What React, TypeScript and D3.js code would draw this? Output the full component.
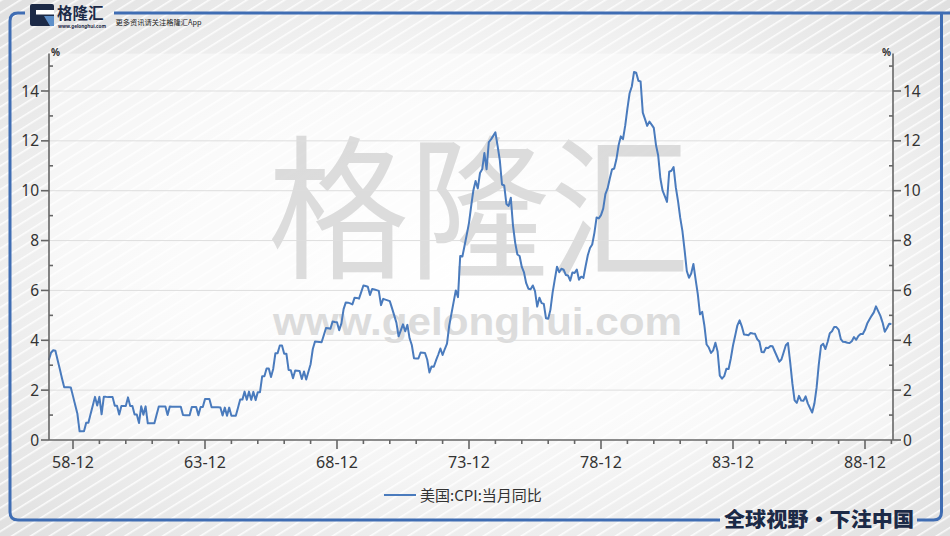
import React from "react";
import * as d3 from "d3";

// US CPI YoY (%), monthly from 1958-01 to 1989-12
const cpi1958to1963 = [
  3.2, 3.5, 3.6, 3.58, 3.21, 2.85, 2.47, 2.12, 2.12, 2.12, 2.11, 1.76,
  1.4, 1.05, 0.35, 0.35, 0.35, 0.69, 0.69, 1.04, 1.38, 1.73, 1.38, 1.73,
  1.03, 1.73, 1.73, 1.72, 1.72, 1.72, 1.37, 1.37, 1.02, 1.36, 1.36, 1.36,
  1.71, 1.36, 1.36, 1.02, 1.02, 0.68, 1.35, 1.01, 1.35, 0.67, 0.67, 0.67,
  0.67, 1.01, 1.34, 1.34, 1.34, 1.34, 1.0, 1.34, 1.33, 1.33, 1.33, 1.33,
  1.33, 1.0, 0.99, 0.99, 0.99, 1.32, 1.32, 1.32, 0.99, 1.32, 1.32, 1.64,
];
const cpi1964to1969 = [
  1.64, 1.64, 1.31, 1.31, 1.31, 1.31, 1.3, 0.98, 1.3, 0.97, 1.3, 0.97,
  0.97, 0.97, 1.29, 1.62, 1.62, 1.94, 1.61, 1.94, 1.61, 1.93, 1.6, 1.92,
  1.92, 2.56, 2.56, 2.87, 2.87, 2.53, 2.85, 3.48, 3.48, 3.79, 3.79, 3.46,
  3.46, 2.81, 2.8, 2.48, 2.79, 2.78, 2.77, 2.45, 2.75, 2.43, 2.74, 3.04,
  3.65, 3.95, 3.94, 3.93, 3.92, 4.2, 4.49, 4.48, 4.46, 4.75, 4.73, 4.72,
  4.4, 4.68, 5.25, 5.52, 5.51, 5.48, 5.44, 5.71, 5.7, 5.67, 5.93, 6.2,
];
const cpi1970to1975 = [
  6.18, 6.15, 5.82, 6.06, 6.04, 6.01, 5.98, 5.41, 5.66, 5.63, 5.6, 5.57,
  5.29, 5.0, 4.71, 4.16, 4.4, 4.64, 4.36, 4.62, 4.08, 3.81, 3.28, 3.27,
  3.27, 3.51, 3.5, 3.49, 3.23, 2.71, 2.95, 2.94, 3.19, 3.42, 3.67, 3.41,
  3.65, 3.87, 4.59, 5.06, 5.53, 6.0, 5.73, 7.38, 7.36, 7.8, 8.25, 8.71,
  9.39, 10.02, 10.39, 10.09, 10.71, 10.86, 11.51, 10.86, 11.95, 12.06, 12.2, 12.34,
  11.8, 11.23, 10.25, 10.21, 9.47, 9.39, 9.72, 8.6, 7.91, 7.44, 7.38, 6.94,
];
const cpi1976to1981 = [
  6.72, 6.29, 6.07, 6.05, 6.2, 5.97, 5.35, 5.71, 5.49, 5.46, 4.88, 4.86,
  5.22, 5.91, 6.44, 6.95, 6.73, 6.87, 6.83, 6.62, 6.6, 6.39, 6.72, 6.7,
  6.84, 6.43, 6.55, 6.5, 6.97, 7.41, 7.7, 7.84, 8.31, 8.93, 8.89, 9.02,
  9.28, 9.86, 10.09, 10.49, 10.85, 10.89, 11.26, 11.82, 12.18, 12.07, 12.61, 13.29,
  13.91, 14.18, 14.76, 14.73, 14.41, 14.38, 13.13, 12.87, 12.6, 12.77, 12.65, 12.52,
  11.83, 11.41, 10.49, 10.0, 9.78, 9.55, 10.76, 10.8, 10.95, 10.14, 9.59, 8.92,
];
const cpi1982to1989 = [
  8.39, 7.62, 6.78, 6.51, 6.68, 7.06, 6.44, 5.85, 5.04, 5.14, 4.59, 3.83,
  3.71, 3.49, 3.6, 3.9, 3.55, 2.58, 2.46, 2.56, 2.86, 2.85, 3.27, 3.79,
  4.19, 4.6, 4.8, 4.56, 4.23, 4.22, 4.2, 4.29, 4.27, 4.26, 4.05, 3.95,
  3.53, 3.52, 3.7, 3.69, 3.77, 3.76, 3.55, 3.35, 3.14, 3.23, 3.51, 3.8,
  3.89, 3.11, 2.26, 1.59, 1.49, 1.77, 1.58, 1.57, 1.75, 1.47, 1.28, 1.1,
  1.46, 2.1, 3.03, 3.78, 3.86, 3.65, 3.93, 4.28, 4.36, 4.53, 4.53, 4.43,
  4.05, 3.94, 3.93, 3.9, 3.89, 3.96, 4.13, 4.02, 4.17, 4.25, 4.25, 4.42,
  4.67, 4.83, 4.98, 5.12, 5.36, 5.17, 4.98, 4.71, 4.34, 4.49, 4.66, 4.65,
];

const startYear = 1958;
const majorTickYears = [1958, 1963, 1968, 1973, 1978, 1983, 1988];
const xTickLabels = ["58-12", "63-12", "68-12", "73-12", "78-12", "83-12", "88-12"];
const yTicks = [0, 2, 4, 6, 8, 10, 12, 14];
const seriesName = "美国:CPI:当月同比";

const values = [
  ...cpi1958to1963,
  ...cpi1964to1969,
  ...cpi1970to1975,
  ...cpi1976to1981,
  ...cpi1982to1989,
];

const W = 950;
const H = 536;
const left = 49;
const right = 893;
const bottom = 440;
const top = 53.6;
const blue = "#3f6db3";
const lineColor = "#4a7bbd";
const navy = "#1c2a47";
const font = "'Noto Sans', 'Open Sans', 'Noto Sans CJK SC', sans-serif";
const cjk = "'Noto Sans CJK SC', 'Noto Sans', sans-serif";

export default function App() {
  const n = values.length;
  const x = d3.scaleLinear().domain([0, n - 1]).range([48.8, 891.4]);
  const y = d3.scaleLinear().domain([0, 15.5]).range([bottom, top]);
  const line = d3
    .line<number>()
    .x((_, i) => x(i))
    .y((d) => y(d));
  const pathD = line(values) || "";

  const yearEnds = d3.range(startYear, startYear + n / 12).map((yr) => (yr - startYear) * 12 + 11);
  const majorIdx = majorTickYears.map((yr) => (yr - startYear) * 12 + 11);
  const minorY = d3.range(1, 16, 2);

  return (
    <svg
      width={W}
      height={H}
      style={{ position: "absolute", left: 0, top: 0, display: "block" }}
      xmlns="http://www.w3.org/2000/svg"
    >
      <defs>
        <radialGradient id="bg" cx="50%" cy="50%" r="70%">
          <stop offset="0%" stopColor="#ffffff" />
          <stop offset="55%" stopColor="#f5f5f5" />
          <stop offset="100%" stopColor="#e0e0e0" />
        </radialGradient>
        <pattern
          id="stripes"
          width="10"
          height="10"
          patternUnits="userSpaceOnUse"
          patternTransform="rotate(-32)"
        >
          <rect x="0" y="0" width="10" height="1.6" fill="#ffffff" opacity="0.85" />
        </pattern>
      </defs>

      <rect x={0} y={0} width={W} height={H} fill="url(#bg)" />
      <rect x={0} y={0} width={W} height={H} fill="url(#stripes)" />
      <rect x={left} y={top} width={right - left} height={bottom - top} fill="#ffffff" opacity={0.45} />

      {/* frame */}
      <g fill="none" stroke={blue} strokeWidth={3}>
        <path d="M 25 13 L 18 13 Q 10 13 10 21 L 10 512 Q 10 520 18 520 L 720 520" />
        <path d="M 114 13 L 950 13" />
        <path d="M 941.5 13 L 941.5 512 Q 941.5 520 933.5 520 L 917 520" />
      </g>

      {/* logo */}
      <g>
        <rect x={30} y={4} width={24} height={22} rx={2} fill={navy} />
        <rect x={36} y={10} width={18} height={4.5} fill="#ffffff" />
        <polygon points="44,16 54,16 54,26 50,26" fill="#5d8fc9" />
        <text x={57} y={18.5} fontFamily={cjk} fontWeight={700} fontSize={15.5} fill={navy}>
          格隆汇
        </text>
        <text x={58} y={27.5} fontFamily={font} fontSize={4.4} fontWeight={700} fill={navy} textLength={48} lengthAdjust="spacingAndGlyphs">
          www.gelonghui.com
        </text>
        <text x={115.5} y={24.5} fontFamily={cjk} fontSize={7} fill="#222" textLength={86} lengthAdjust="spacingAndGlyphs">
          更多资讯请关注格隆汇App
        </text>
      </g>

      {/* watermark */}
      <g fill="#d0d0d0" opacity={0.72}>
        <text
          x={0}
          y={0}
          fontFamily={cjk}
          fontSize={143}
          transform="translate(268,266) scale(1,1.08)"
          textLength={422}
          lengthAdjust="spacingAndGlyphs"
        >
          格隆汇
        </text>
        <text
          x={273}
          y={335}
          fontFamily="'Liberation Sans', Arial, sans-serif"
          fontWeight={700}
          fontSize={39}
          textLength={409}
          lengthAdjust="spacingAndGlyphs"
        >
          www.gelonghui.com
        </text>
      </g>

      {/* grid */}
      <g stroke="#dedede" strokeWidth={1}>
        {yTicks
          .filter((t) => t > 0)
          .map((t) => (
            <line key={t} x1={left} x2={right} y1={y(t)} y2={y(t)} />
          ))}
      </g>

      {/* series */}
      <path d={pathD} fill="none" stroke={lineColor} strokeWidth={2} strokeLinejoin="round" />

      {/* axes */}
      <g stroke="#666" strokeWidth={1.6} fill="none">
        <line x1={left} x2={left} y1={top} y2={bottom} />
        <line x1={right} x2={right} y1={top} y2={bottom} />
        <line x1={left} x2={right} y1={bottom} y2={bottom} />
        {yTicks.map((t) => (
          <g key={"yt" + t}>
            <line x1={left - 8} x2={left} y1={y(t)} y2={y(t)} />
            <line x1={right} x2={right + 8} y1={y(t)} y2={y(t)} />
          </g>
        ))}
        {minorY.map((t) => (
          <g key={"ym" + t}>
            <line x1={left} x2={left + 4} y1={y(t)} y2={y(t)} />
            <line x1={right - 4} x2={right} y1={y(t)} y2={y(t)} />
          </g>
        ))}
        {yearEnds.map((i) => (
          <line key={"xm" + i} x1={x(i)} x2={x(i)} y1={bottom} y2={bottom + (majorIdx.includes(i) ? 9 : 4)} />
        ))}
      </g>

      <g fontFamily={font} fontSize={15.5} fill="#333">
        {yTicks.map((t) => (
          <text key={"yl" + t} x={left - 10} y={y(t)} dy="0.36em" textAnchor="end">
            {t}
          </text>
        ))}
        {yTicks.map((t) => (
          <text key={"yr" + t} x={right + 10} y={y(t)} dy="0.36em" textAnchor="start">
            {t}
          </text>
        ))}
      </g>
      <g fontFamily={font} fontSize={16} fill="#333" textAnchor="middle">
        {majorIdx.map((i, k) => (
          <text key={"xl" + i} x={x(i)} y={468}>
            {xTickLabels[k]}
          </text>
        ))}
      </g>
      <g fontFamily={font} fontSize={10} fontWeight={700} fill="#333">
        <text x={left + 2} y={56}>%</text>
        <text x={right - 2} y={56} textAnchor="end">%</text>
      </g>

      {/* legend */}
      <line x1={384} x2={416} y1={495} y2={495} stroke={lineColor} strokeWidth={2} />
      <text x={420} y={500.5} fontFamily={cjk} fontSize={15} fill="#333">
        {seriesName}
      </text>

      {/* slogan */}
      <text
        x={724}
        y={527}
        fontFamily={cjk}
        fontWeight={900}
        fontSize={20}
        fill={navy}
        textLength={190}
        lengthAdjust="spacingAndGlyphs"
      >
        全球视野・下注中国
      </text>
    </svg>
  );
}
